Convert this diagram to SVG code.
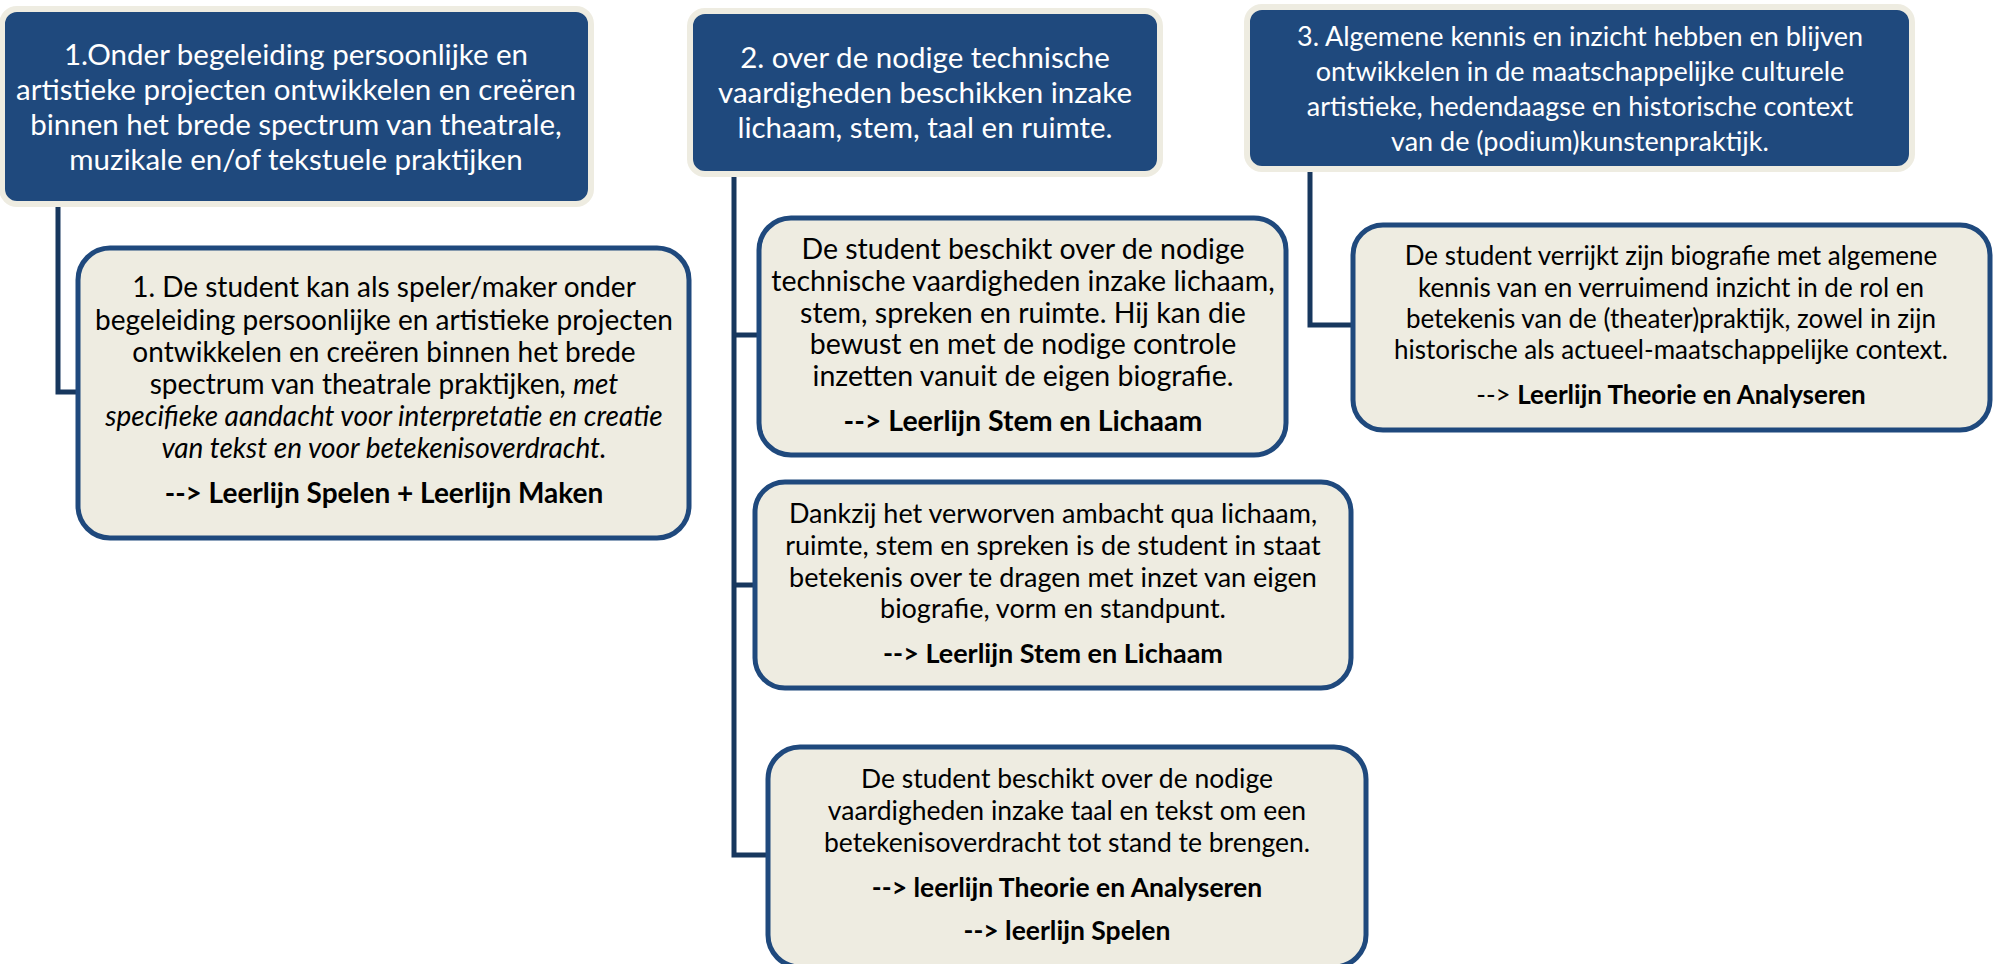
<svg xmlns="http://www.w3.org/2000/svg" width="1993" height="964" viewBox="0 0 1993 964">
<style>
.hdr{fill:#1F497D;stroke:#EEECE1;stroke-width:6}
.sub{fill:#EEECE1;stroke:#1F497D;stroke-width:5}
.ht{font-family:Lato,"Liberation Sans",sans-serif;fill:#FFFFFF;text-anchor:middle}
.st{font-family:Lato,"Liberation Sans",sans-serif;fill:#000000;text-anchor:middle}
.b{font-weight:bold}
.i{font-style:italic}
.con{fill:none;stroke:#17375E;stroke-width:5}
</style>
<rect width="1993" height="964" fill="#FFFFFF"/>
<g id="connectors">
<polyline class="con" points="58,206 58,392 80,392"/>
<polyline class="con" points="734,174 734,855 768,855"/>
<line class="con" x1="734" y1="335" x2="759" y2="335"/>
<line class="con" x1="734" y1="585" x2="755" y2="585"/>
<polyline class="con" points="1310,170 1310,325 1353,325"/>
</g>
<g id="h1" font-size="29.5">
<rect class="hdr" x="2" y="9" width="589" height="195" rx="15"/>
<text class="ht" x="296" y="65">1.Onder begeleiding persoonlijke en</text>
<text class="ht" x="296" y="100">artistieke projecten ontwikkelen en creëren</text>
<text class="ht" x="296" y="135">binnen het brede spectrum van theatrale,</text>
<text class="ht" x="296" y="170">muzikale en/of tekstuele praktijken</text>
</g>
<g id="h2" font-size="29.5">
<rect class="hdr" x="690" y="11" width="470" height="163" rx="15"/>
<text class="ht" x="925" y="68">2. over de nodige technische</text>
<text class="ht" x="925" y="103">vaardigheden beschikken inzake</text>
<text class="ht" x="925" y="138">lichaam, stem, taal en ruimte.</text>
</g>
<g id="h3" font-size="27">
<rect class="hdr" x="1247" y="7" width="665" height="162" rx="15"/>
<text class="ht" x="1580" y="46">3. Algemene kennis en inzicht hebben en blijven</text>
<text class="ht" x="1580" y="81">ontwikkelen in de maatschappelijke culturele</text>
<text class="ht" x="1580" y="116">artistieke, hedendaagse en historische context</text>
<text class="ht" x="1580" y="151">van de (podium)kunstenpraktijk.</text>
</g>
<g id="a" font-size="28">
<rect class="sub" x="78" y="248" width="611" height="290" rx="32"/>
<text class="st" x="384" y="297">1. De student kan als speler/maker onder</text>
<text class="st" x="384" y="330">begeleiding persoonlijke en artistieke projecten</text>
<text class="st" x="384" y="362">ontwikkelen en creëren binnen het brede</text>
<text class="st" x="384" y="394">spectrum van theatrale praktijken<tspan class="i">, met</tspan></text>
<text class="st i" x="384" y="426">specifieke aandacht voor interpretatie en creatie</text>
<text class="st i" x="384" y="458">van tekst en voor betekenisoverdracht.</text>
<text class="st b" x="384" y="503">--&gt; Leerlijn Spelen + Leerlijn Maken</text>
</g>
<g id="b" font-size="28.5">
<rect class="sub" x="759" y="218" width="527" height="237" rx="32"/>
<text class="st" x="1023" y="259">De student beschikt over de nodige</text>
<text class="st" x="1023" y="291">technische vaardigheden inzake lichaam,</text>
<text class="st" x="1023" y="323">stem, spreken en ruimte. Hij kan die</text>
<text class="st" x="1023" y="354">bewust en met de nodige controle</text>
<text class="st" x="1023" y="386">inzetten vanuit de eigen biografie.</text>
<text class="st b" x="1023" y="431">--&gt; Leerlijn Stem en Lichaam</text>
</g>
<g id="c" font-size="27">
<rect class="sub" x="755" y="482" width="596" height="206" rx="30"/>
<text class="st" x="1053" y="523">Dankzij het verworven ambacht qua lichaam,</text>
<text class="st" x="1053" y="555">ruimte, stem en spreken is de student in staat</text>
<text class="st" x="1053" y="587">betekenis over te dragen met inzet van eigen</text>
<text class="st" x="1053" y="618">biografie, vorm en standpunt.</text>
<text class="st b" x="1053" y="663">--&gt; Leerlijn Stem en Lichaam</text>
</g>
<g id="d" font-size="26.5">
<rect class="sub" x="768" y="747" width="598" height="220" rx="32"/>
<text class="st" x="1067" y="788">De student beschikt over de nodige</text>
<text class="st" x="1067" y="820">vaardigheden inzake taal en tekst om een</text>
<text class="st" x="1067" y="852">betekenisoverdracht tot stand te brengen.</text>
<text class="st b" x="1067" y="897">--&gt; leerlijn Theorie en Analyseren</text>
<text class="st b" x="1067" y="940">--&gt; leerlijn Spelen</text>
</g>
<g id="e" font-size="26">
<rect class="sub" x="1353" y="225" width="637" height="205" rx="30"/>
<text class="st" x="1671" y="265">De student verrijkt zijn biografie met algemene</text>
<text class="st" x="1671" y="297">kennis van en verruimend inzicht in de rol en</text>
<text class="st" x="1671" y="328">betekenis van de (theater)praktijk, zowel in zijn</text>
<text class="st" x="1671" y="359">historische als actueel-maatschappelijke context.</text>
<text class="st" x="1671" y="404">--&gt; <tspan class="b">Leerlijn Theorie en Analyseren</tspan></text>
</g>
</svg>
